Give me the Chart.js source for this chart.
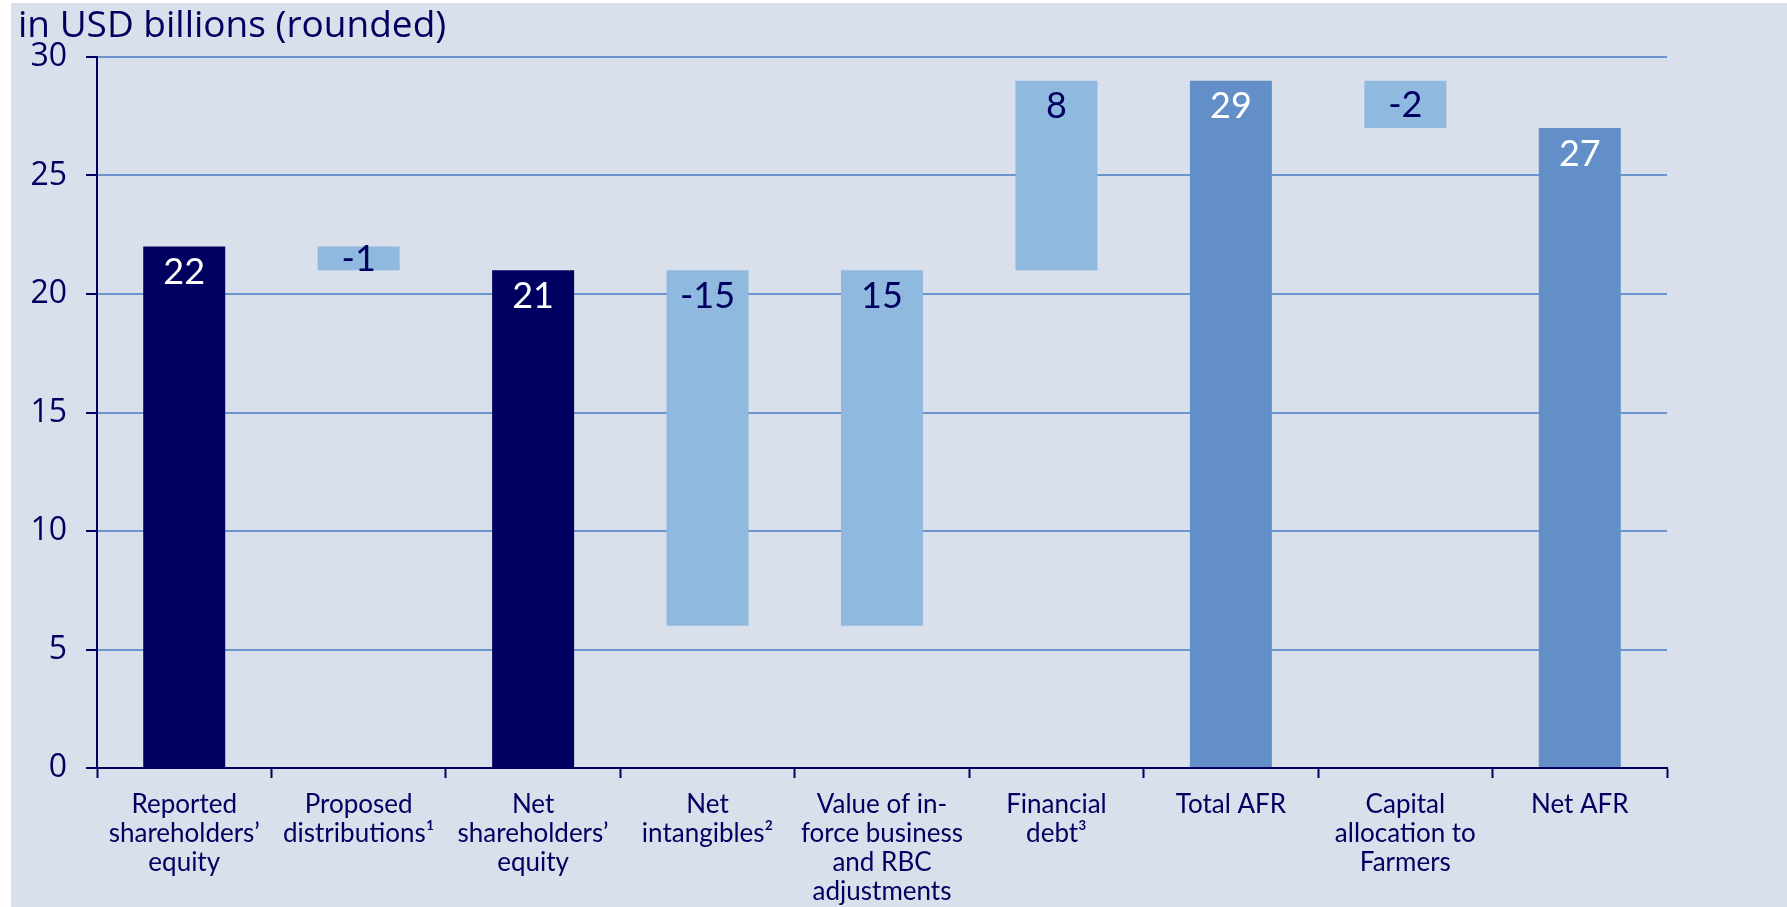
<!DOCTYPE html>
<html>
<head>
<meta charset="utf-8">
<script src="https://cdn.jsdelivr.net/npm/chart.js@4/dist/chart.umd.min.js"></script>
<style>
  html, body { margin: 0; padding: 0; background: #ffffff; }
  #wrap { position: relative; width: 1787px; height: 907px; }
</style>
</head>
<body>
<div id="wrap"><canvas id="afr"></canvas></div>
<script>
// Available financial resources bridge, USD billions (rounded)
const categories = [
  ['Reported', 'shareholders\u2019', 'equity'],
  ['Proposed', 'distributions\u00b9'],
  ['Net', 'shareholders\u2019', 'equity'],
  ['Net', 'intangibles\u00b2'],
  ['Value of in-', 'force business', 'and RBC', 'adjustments'],
  ['Financial', 'debt\u00b3'],
  ['Total AFR'],
  ['Capital', 'allocation to', 'Farmers'],
  ['Net AFR']
];
// step values: totals are levels, the rest are changes to the running level
const values = [22, -1, 21, -15, 15, 8, 29, -2, 27];
const kinds = ['total', 'change', 'total', 'change', 'change', 'change', 'total', 'change', 'total'];
const yTicks = [0, 5, 10, 15, 20, 25, 30];

const NAVY = '#000060';
const fills = {
  equity: '#000060',
  change: '#8fb9df',
  afr: '#628fc8'
};

// floating [low, high] ranges for the waterfall
const ranges = [];
let level = 0;
values.forEach((v, i) => {
  if (kinds[i] === 'total') {
    ranges.push([0, v]);
    level = v;
  } else {
    const next = level + v;
    ranges.push([Math.min(level, next), Math.max(level, next)]);
    level = next;
  }
});

const barColors = values.map((v, i) => {
  if (kinds[i] === 'change') return fills.change;
  return i < 3 ? fills.equity : fills.afr;
});

const panel = {
  id: 'panel',
  beforeDraw(chart) {
    const { ctx, width, height } = chart;
    ctx.save();
    ctx.fillStyle = '#ffffff';
    ctx.fillRect(0, 0, width, height);
    ctx.fillStyle = '#d9dfeb';
    ctx.fillRect(11, 3, width - 11, height - 3);
    ctx.restore();
  }
};

const valueLabels = {
  id: 'valueLabels',
  afterDatasetsDraw(chart) {
    const { ctx } = chart;
    const meta = chart.getDatasetMeta(0);
    ctx.save();
    ctx.font = '36px Lato, "Open Sans", sans-serif';
    ctx.textAlign = 'center';
    ctx.textBaseline = 'middle';
    meta.data.forEach((bar, i) => {
      const top = Math.min(bar.y, bar.base);
      const bottom = Math.max(bar.y, bar.base);
      const y = Math.min(top + 26, (top + bottom) / 2 + 1);
      ctx.fillStyle = kinds[i] === 'total' ? '#ffffff' : NAVY;
      ctx.fillText(String(values[i]), bar.x, y);
    });
    ctx.restore();
  }
};

new Chart(document.getElementById('afr'), {
  type: 'bar',
  data: {
    labels: categories,
    datasets: [{
      data: ranges,
      backgroundColor: barColors,
      borderWidth: 0,
      categoryPercentage: 1,
      barPercentage: 0.47
    }]
  },
  options: {
    responsive: true,
    maintainAspectRatio: false,
    animation: false,
    layout: { padding: { left: 18, right: 120, top: 3, bottom: 0 } },
    plugins: {
      legend: { display: false },
      tooltip: { enabled: false },
      title: {
        display: true,
        text: 'in USD billions (rounded)',
        align: 'start',
        color: NAVY,
        font: { family: '"Open Sans", Lato, sans-serif', size: 37, weight: 'normal', lineHeight: 1.2 },
        padding: { top: 1, bottom: 8.6 }
      }
    },
    scales: {
      x: {
        grid: {
          display: true,
          offset: true,
          drawOnChartArea: false,
          drawTicks: true,
          tickLength: 10,
          tickColor: NAVY,
          tickWidth: 2
        },
        border: { display: true, color: NAVY, width: 2 },
        ticks: {
          color: NAVY,
          padding: 12,
          maxRotation: 0,
          autoSkip: false,
          font: { family: 'Lato, "Open Sans", sans-serif', size: 26, lineHeight: 1.12 }
        },
        afterFit(scale) { scale.height = 139; }
      },
      y: {
        min: 0,
        max: 30,
        afterBuildTicks(scale) { scale.ticks = yTicks.map(v => ({ value: v })); },
        grid: {
          color: '#6c95d0',
          lineWidth: 2,
          drawTicks: true,
          tickLength: 11,
          tickColor: NAVY,
          tickWidth: 2
        },
        border: { display: true, color: NAVY, width: 2 },
        ticks: {
          color: NAVY,
          padding: 19,
          font: { family: '"Open Sans", Lato, sans-serif', size: 32 }
        },
        afterFit(scale) { scale.width = 79; }
      }
    }
  },
  plugins: [panel, valueLabels]
});
</script>
</body>
</html>
